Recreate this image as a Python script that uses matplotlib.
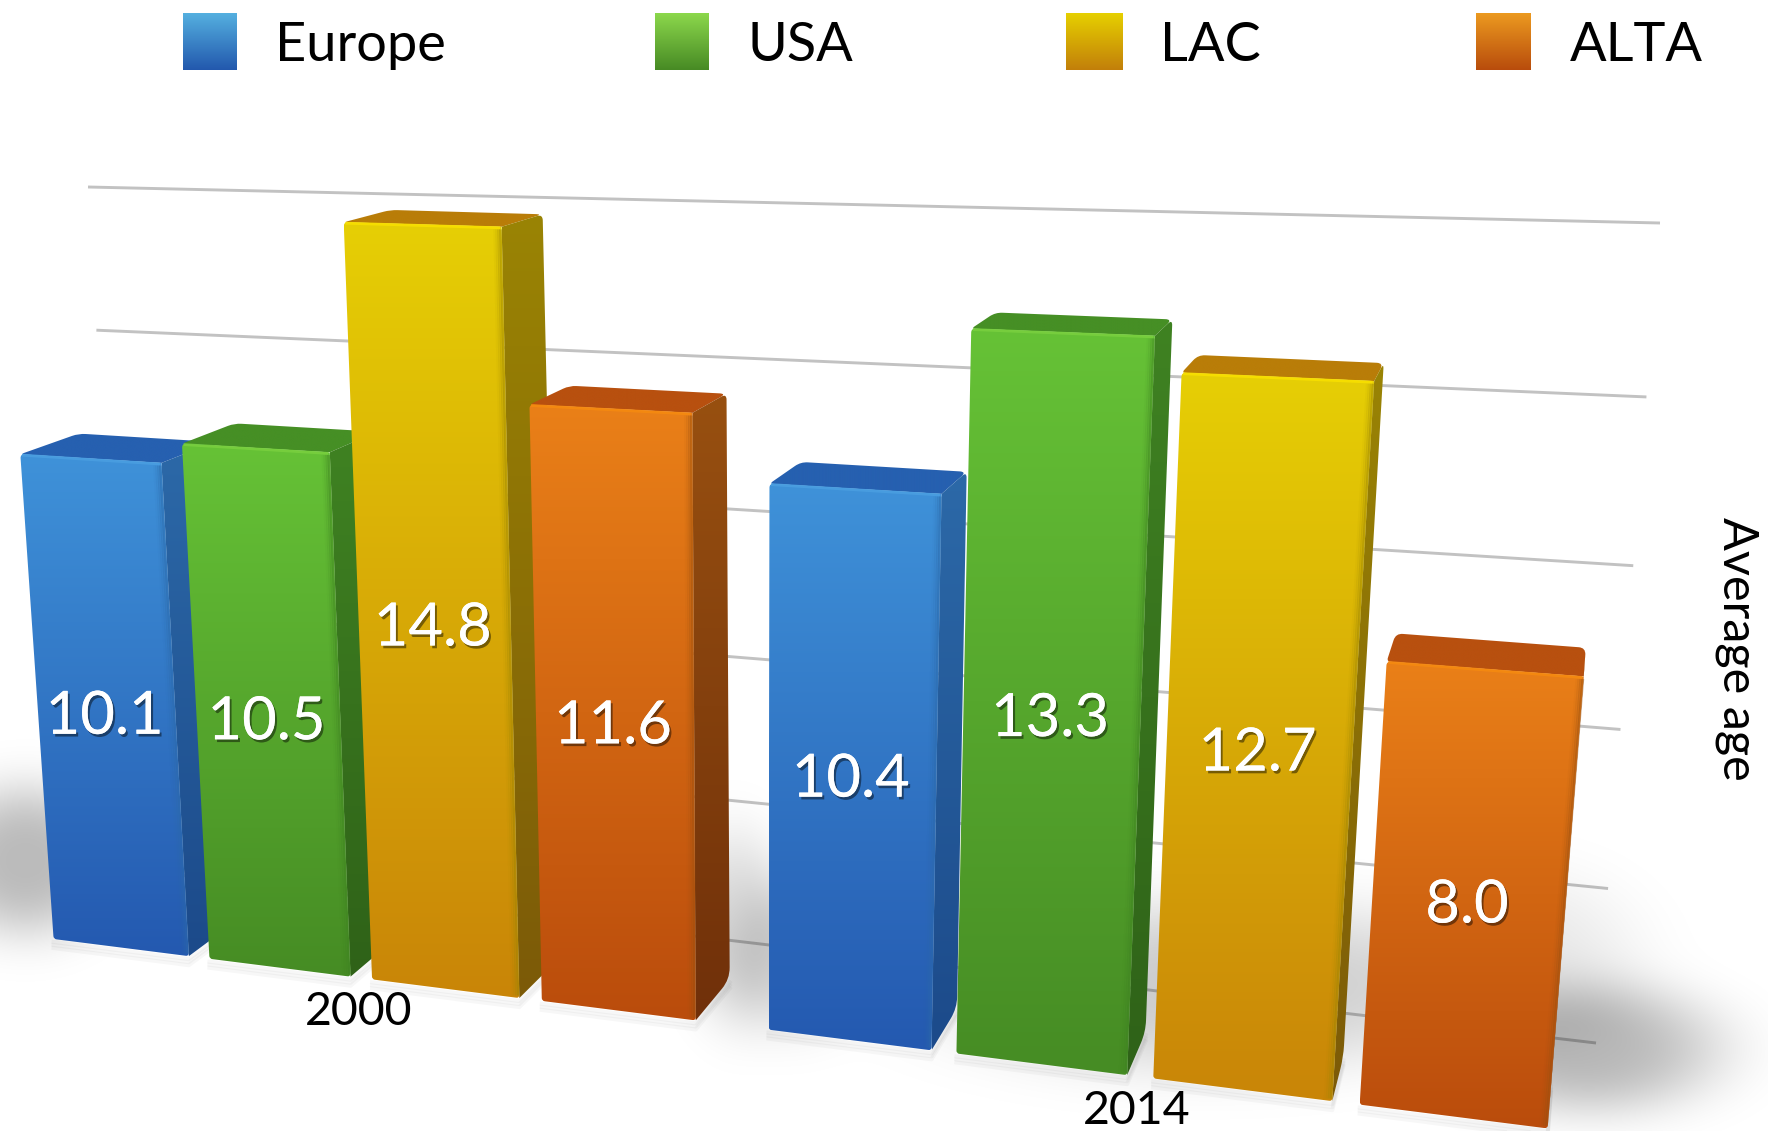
import numpy as np
import matplotlib
matplotlib.use("Agg")
import matplotlib.pyplot as plt
import matplotlib.patheffects as pe
from matplotlib.path import Path

# data
years = ["2000", "2014"]
regions = ["Europe", "USA", "LAC", "ALTA"]
values_2000 = [10.1, 10.5, 14.8, 11.6]
values_2014 = [10.4, 13.3, 12.7, 8.0]
grid_values = [0, 3, 6, 9, 12, 15]
axis_title = "Average age"

# colours: (top, bottom) of the front, top of the side, bottom of the side, lid, highlight
front_cols = ["#3f92d9", "#66c236", "#e6cf05", "#ea8018"]
front_bots = ["#2459b0", "#468c24", "#c98508", "#ba4c0c"]
side_tops = ["#2c69a8", "#3f8222", "#9a8404", "#985010"]
side_bots = ["#1c4a8a", "#2f6218", "#7c5a08", "#70300a"]
lid_cols = ["#2660b0", "#468f25", "#b97d08", "#b8500f"]
edge_cols = ["#4a9ee0", "#78cf3e", "#f7df00", "#f58a10"]
legend_tops = ["#55b0e0", "#8cd84c", "#e6d000", "#ec9a20"]
legend_bots = ["#2258ad", "#478a24", "#c27f0a", "#b84c0c"]

W, H = 1768, 1131
fig = plt.figure(figsize=(W / 100, H / 100), dpi=100)
ax = fig.add_axes([0, 0, 1, 1])
ax.set_autoscale_on(False)
ax.set_xlim(0, W)
ax.set_ylim(H, 0)
ax.axis("off")
plt.rcParams["font.family"] = ["Lato", "DejaVu Sans"]


def homography(src, dst):
    A, b = [], []
    for (x, y), (u, v) in zip(src, dst):
        A.append([x, y, 1, 0, 0, 0, -u * x, -u * y])
        A.append([0, 0, 0, x, y, 1, -v * x, -v * y])
        b += [u, v]
    h = np.linalg.solve(np.array(A, float), np.array(b, float))
    return np.append(h, 1).reshape(3, 3)


def project(M, x, y):
    p = M @ np.array([x, y, 1.0])
    return np.array([p[0] / p[2], p[1] / p[2]])


# perspective of the plane of the bar fronts and of the back wall
slot_x = [0, 1, 2, 3, 4.27, 5.27, 6.27, 7.27]
bar_w = 0.87
X_END = 8.16
VMAX = 15.0
front_M = homography([(0, 0), (X_END, 0), (0, VMAX), (X_END, VMAX)],
                     [(53.6, 939), (1552, 1129), (3, 202), (1623, 246)])
wall_M = homography([(0, 0), (1, 0), (0, VMAX), (1, VMAX)],
                    [(128, 869), (1596, 1043), (88, 187), (1660, 223)])
VANISH = np.array([1640.0, -120.0])
DEPTH = 0.036


def back(p):
    return p + DEPTH * (VANISH - p)


def round_path(pts, r):
    # closed polygon with quadratic corners, r can be one value per corner
    pts = [np.array(p, float) for p in pts]
    n = len(pts)
    rs = r if np.iterable(r) else [r] * n
    verts, codes = [], []
    for i in range(n):
        p = pts[i]
        a = pts[i - 1]
        b = pts[(i + 1) % n]
        ra = min(rs[i], np.linalg.norm(a - p) / 2)
        rb = min(rs[i], np.linalg.norm(b - p) / 2)
        p1 = p + (a - p) / max(np.linalg.norm(a - p), 1e-6) * ra
        p2 = p + (b - p) / max(np.linalg.norm(b - p), 1e-6) * rb
        verts.append(p1)
        codes.append(Path.MOVETO if i == 0 else Path.LINETO)
        verts += [p, p2]
        codes += [Path.CURVE3, Path.CURVE3]
    verts.append(verts[0])
    codes.append(Path.CLOSEPOLY)
    return Path(verts, codes)


def grad_poly(pts, top, bot, z, r=0):
    path = round_path(pts, r)
    pts = np.array(pts)
    c0 = np.array(matplotlib.colors.to_rgb(top))
    c1 = np.array(matplotlib.colors.to_rgb(bot))
    t = np.linspace(0, 1, 256)[:, None, None]
    img = c0[None, None, :] * (1 - t) + c1[None, None, :] * t
    im = ax.imshow(img, extent=[pts[:, 0].min(), pts[:, 0].max(), pts[:, 1].max(), pts[:, 1].min()],
                   aspect="auto", interpolation="bilinear", zorder=z)
    im.set_clip_path(path, transform=ax.transData)


# back wall grid
for g in grid_values:
    p0 = project(wall_M, 0, g)
    p1 = project(wall_M, 1, g)
    ax.plot([p0[0], p1[0]], [p0[1], p1[1]], color="#c2c2c2", lw=2.1, zorder=1, solid_capstyle="butt")

# soft floor shadows
yy, xx = np.mgrid[0:H, 0:W]
alpha = np.zeros((H, W))
for cx, cy, rx, ry, amp in [(25, 860, 85, 75, 0.27), (735, 925, 55, 95, 0.14), (790, 960, 70, 75, 0.12),
                            (1210, 985, 260, 85, 0.2), (1590, 1048, 130, 65, 0.27), (1520, 960, 120, 90, 0.08)]:
    d = ((xx - cx) / rx) ** 2 + ((yy - cy) / ry) ** 2
    alpha += amp * np.exp(-d ** 1.5)
shadow = np.zeros((H, W, 4))
shadow[..., 3] = np.clip(alpha, 0, 0.4)
ax.imshow(shadow, extent=[0, W, H, 0], aspect="auto", interpolation="bilinear", zorder=2)

# bars, left to right so that each one covers the side of the previous one
all_values = values_2000 + values_2014
for i, v in enumerate(all_values):
    c = i % 4
    z = 3 + i
    x0 = slot_x[i]
    bl = project(front_M, x0, 0)
    br = project(front_M, x0 + bar_w, 0)
    tl = project(front_M, x0, v)
    tr = project(front_M, x0 + bar_w, v)
    # contact shade under the bar
    for d in [3, 6, 9]:
        ax.plot([bl[0], br[0], back(br)[0]], [bl[1] + d, br[1] + d, back(br)[1] + d],
                color="k", alpha=0.03, lw=3, zorder=z)
    grad_poly([tl, tr, back(tr), back(tl)], lid_cols[c], lid_cols[c], z, r=[4, 0, 7, 7])
    grad_poly([tr, back(tr), back(br), br], side_tops[c], side_bots[c], z, r=[0, 6, 12, 0])
    grad_poly([tl, tr, br, bl], front_cols[c], front_bots[c], z, r=[4, 0, 3, 3])
    ax.plot([tl[0] + 3, tr[0] - 3], [tl[1] + 1, tr[1] + 1], color=edge_cols[c], lw=2, alpha=0.9, zorder=z)
    # soft edge between the front and the side
    for d, a in [(1, 0.45), (3, 0.28), (5, 0.14), (7, 0.06)]:
        ax.plot([tr[0] - d, br[0] - d], [tr[1] + 4, br[1] - 4], color=side_tops[c], lw=2, alpha=a, zorder=z)

    # value label in the middle of the front
    m = project(front_M, x0 + bar_w / 2, v / 2)
    txt = ax.text(m[0] - 1, m[1] + 8, "%.1f" % v, color="white", fontsize=43, ha="center", va="center", zorder=30)
    txt.set_path_effects([pe.withSimplePatchShadow(offset=(1.5, -2), shadow_rgbFace="k", alpha=0.45),
                          pe.Normal()])

# year labels
for k, year in enumerate(years):
    mid = (slot_x[4 * k] + slot_x[4 * k + 3] + bar_w) / 2
    p = project(front_M, mid, 0)
    ax.text(p[0] - 3, p[1] + 34, year, color="k", fontsize=33.5, ha="center", va="center", zorder=31)

# legend
swatch_x = [(183, 237), (655, 709), (1066, 1123), (1476, 1531)]
text_x = [275, 748, 1160, 1570]
for c, name in enumerate(regions):
    a, b = swatch_x[c]
    grad_poly([(a, 13), (b, 13), (b, 70), (a, 70)], legend_tops[c], legend_bots[c], 30)
    ax.text(text_x[c], 61, name, color="k", fontsize=39, ha="left", va="baseline", zorder=31)

ax.text(1737, 649, axis_title, color="k", fontsize=35, rotation=270, ha="center", va="center", zorder=31)

ax.set_xlim(0, W)
ax.set_ylim(H, 0)
fig.savefig("out.png", dpi=100)
